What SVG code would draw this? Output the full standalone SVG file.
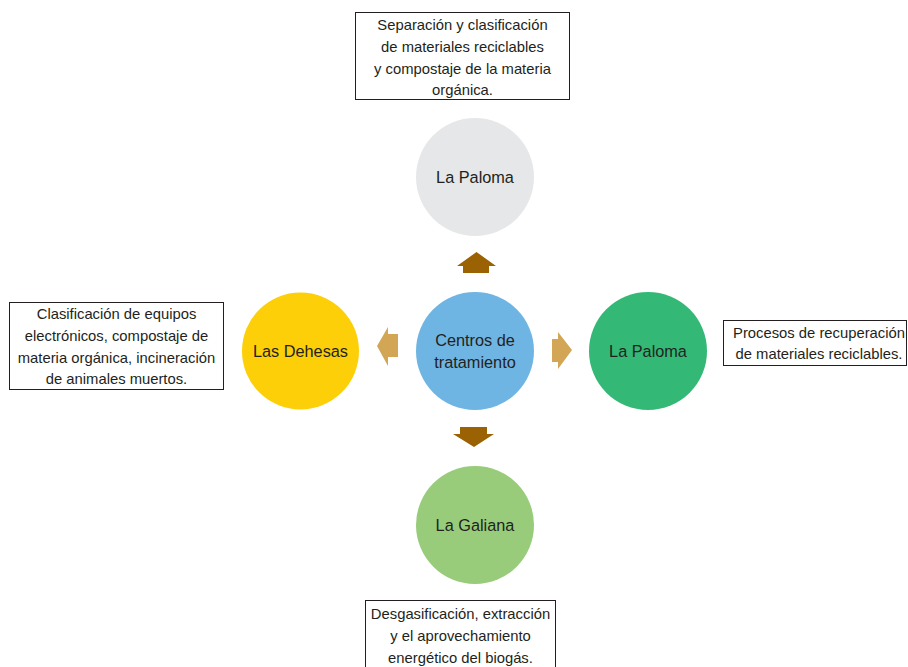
<svg xmlns="http://www.w3.org/2000/svg" width="908" height="667" viewBox="0 0 908 667">
<style>
.box{fill:#ffffff;stroke:#231f20;stroke-width:1}
.t{font-family:"Liberation Sans",Arial,sans-serif;font-size:14.8px;fill:#231f20;text-anchor:middle;dominant-baseline:central}
.c{font-family:"Liberation Sans",Arial,sans-serif;font-size:16.3px;fill:#231f20;text-anchor:middle;dominant-baseline:central}
.dark{fill:#9b6204}
.light{fill:#d2a654}
</style>
<rect width="908" height="667" fill="#ffffff"/>
<g id="connectors">
<polygon class="dark" points="476.5,252 496,266 489,266 489,273 463,273 463,266 457,266"/>
<polygon class="dark" points="474,447 494,434 487,434 487,427 460,427 460,434 453,434"/>
<polygon class="light" points="377,346 388,327 388,334 398,334 398,357 388,357 388,366"/>
<polygon class="light" points="572,350 558,332 558,339 552,339 552,362 558,362 558,369"/>
</g>
<g id="center">
<circle cx="475" cy="351" r="59" fill="#6fb5e3"/>
<text class="c" x="475" y="340" font-size="18.3">Centros de</text>
<text class="c" x="475" y="362" font-size="18.3">tratamiento</text>
</g>
<g id="top">
<circle cx="475" cy="177" r="59" fill="#e6e7e8"/>
<text class="c" x="475" y="177">La Paloma</text>
</g>
<g id="left">
<circle cx="300.5" cy="351" r="58.5" fill="#fccf08"/>
<text class="c" x="300.5" y="351">Las Dehesas</text>
</g>
<g id="right">
<circle cx="648" cy="351" r="59" fill="#33b876"/>
<text class="c" x="648" y="351">La Paloma</text>
</g>
<g id="bottom">
<circle cx="475" cy="525" r="59" fill="#98cc7a"/>
<text class="c" x="475" y="525">La Galiana</text>
</g>
<g id="note-top">
<rect class="box" x="355.5" y="12.5" width="214" height="87"/>
<text class="t" x="462.5" y="25">Separación y clasificación</text>
<text class="t" x="462.5" y="47">de materiales reciclables</text>
<text class="t" x="462.5" y="69">y compostaje de la materia</text>
<text class="t" x="462.5" y="90">orgánica.</text>
</g>
<g id="note-left">
<rect class="box" x="9.5" y="302.5" width="214" height="87"/>
<text class="t" x="116.5" y="314">Clasificación de equipos</text>
<text class="t" x="116.5" y="336">electrónicos, compostaje de</text>
<text class="t" x="116.5" y="358">materia orgánica, incineración</text>
<text class="t" x="116.5" y="379">de animales muertos.</text>
</g>
<g id="note-right">
<rect class="box" x="723.5" y="320.5" width="183" height="45"/>
<text class="t" x="819" y="333">Procesos de recuperación</text>
<text class="t" x="819" y="354">de materiales reciclables.</text>
</g>
<g id="note-bottom">
<rect class="box" x="365.5" y="600.5" width="190" height="80"/>
<text class="t" x="460.5" y="614">Desgasificación, extracción</text>
<text class="t" x="460.5" y="636">y el aprovechamiento</text>
<text class="t" x="460.5" y="658">energético del biogás.</text>
</g>
</svg>
